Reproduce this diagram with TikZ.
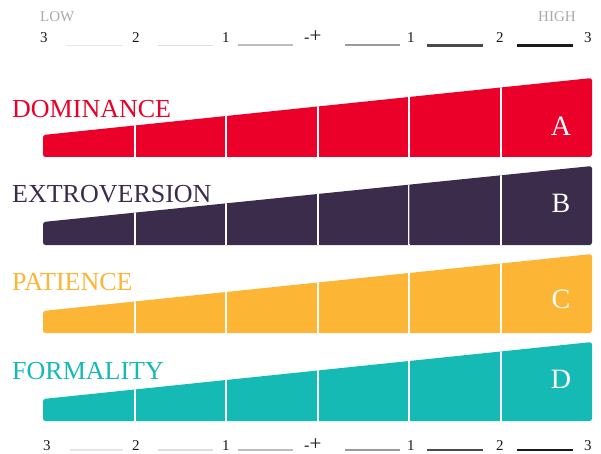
\documentclass[tikz,border=0pt]{standalone}
\usepackage{fontspec}
\setmainfont{Liberation Serif}
\definecolor{cred}{HTML}{EA0029}
\definecolor{cpurple}{HTML}{3B2C4C}
\definecolor{corange}{HTML}{FDB536}
\definecolor{cteal}{HTML}{16BAB5}
\definecolor{lowgray}{HTML}{AAAAAA}
\definecolor{g1}{HTML}{E6E6E6}
\definecolor{g2}{HTML}{DDDDDD}
\definecolor{g3}{HTML}{BDBDBD}
\definecolor{g4}{HTML}{9A9A9A}
\definecolor{g5}{HTML}{4A4A4A}
\definecolor{g6}{HTML}{1A1A1A}
\tikzset{
  scalenum/.style={anchor=base west, inner sep=0, text=black!90, font=\fontsize{15}{15}\selectfont},
  endlabel/.style={anchor=base west, inner sep=0, text=lowgray, font=\fontsize{15}{15}\selectfont},
  barlabel/.style={anchor=base west, inner sep=0, font=\fontsize{26}{26}\selectfont},
  barletter/.style={anchor=base, inner sep=0, text=white, font=\fontsize{28}{28}\selectfont},
  divider/.style={white, line width=2pt}
}
% #1 name, #2 colour, #3 bottom y, #4 left top y, #5 right top y, #6 label, #7 label baseline, #8 letter, #9 letter baseline
\newcommand\mybar[9]{%
  \fill[#2, rounded corners=2.5pt] (43,#3) -- (43,#4) -- (592,#5) -- (592,#3) -- cycle;
  \begin{scope}
    \clip (43,#3) -- (43,#4) -- (592,#5) -- (592,#3) -- cycle;
    \foreach \x in {134.5,226,317.5,409,500.5} \draw[divider] (\x,#3) -- (\x,0);
  \end{scope}
  \node[barlabel, text=#2] (#1-label) at (12,#7) {#6};
  \node[barletter] (#1-letter) at (561,#9) {#8};
}
% #1 prefix, #2 baseline y, #3 line y, #4 left x of first line
\newcommand\scalerow[4]{%
  \node[scalenum] (#1-n3l) at (#4,#2) {3};
  \node[scalenum] (#1-n2l) at (132,#2) {2};
  \node[scalenum] (#1-n1l) at (222,#2) {1};
  \node[anchor=base west, inner sep=0, text=black!90] (#1-mid) at (304,#2) {{\fontsize{16}{16}\selectfont -}{\fontsize{21}{21}\selectfont +}};
  \node[scalenum] (#1-n1r) at (407,#2) {1};
  \node[scalenum] (#1-n2r) at (496,#2) {2};
  \node[scalenum] (#1-n3r) at (584,#2) {3};
  \draw[g1, line width=1.6pt] (#4+27,#3) -- (123,#3);
  \draw[g2, line width=1.6pt] (158,#3) -- (213,#3);
  \draw[g3, line width=2pt] (238,#3) -- (293,#3);
  \draw[g4, line width=2pt] (345,#3) -- (400,#3);
  \draw[g5, line width=2.4pt] (427,#3) -- (483,#3);
  \draw[g6, line width=2.8pt] (517,#3) -- (573,#3);
}
\begin{document}
\begin{tikzpicture}[x=1pt,y=-1pt]
\useasboundingbox (0,0) rectangle (601,454);
\node[endlabel] (low) at (40,22) {LOW};
\node[endlabel] (high) at (538,22) {HIGH};
\scalerow{top}{43}{45.5}{40}
\mybar{dom}{cred}{157}{135}{78}{DOMINANCE}{118}{A}{136}
\mybar{ext}{cpurple}{245}{222}{166}{EXTROVERSION}{203}{B}{212}
\draw[cpurple!70!white, line width=0.6pt] (409,244) -- (409,185);
\mybar{pat}{corange}{333}{311}{254}{PATIENCE}{290}{C}{308}
\mybar{for}{cteal}{421}{399}{342}{FORMALITY}{379}{D}{388}
\scalerow{bot}{450}{450}{43}
\end{tikzpicture}
\end{document}
